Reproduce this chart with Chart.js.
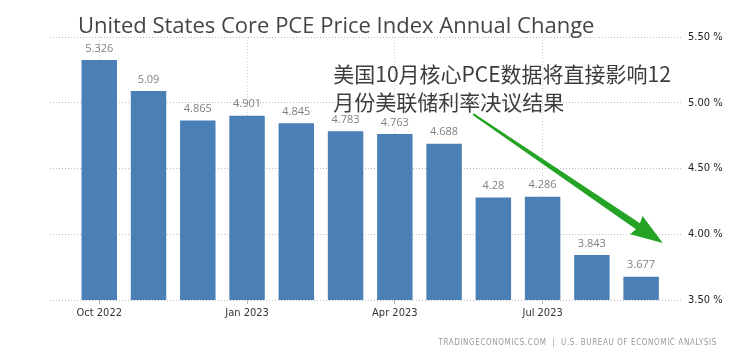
<!DOCTYPE html>
<html>
<head>
<meta charset="utf-8">
<script src="https://cdn.jsdelivr.net/npm/chart.js@4.4.0/dist/chart.umd.min.js"></script>
<style>
  html, body { margin: 0; padding: 0; background: #fff; }
  canvas { display: block; }
</style>
</head>
<body>
<canvas id="pce" width="756" height="358"></canvas>
<script>
"use strict";

// months shown on the chart, Oct 2022 .. Sep 2023
const months = ['Oct 2022', 'Nov 2022', 'Dec 2022', 'Jan 2023', 'Feb 2023', 'Mar 2023',
                'Apr 2023', 'May 2023', 'Jun 2023', 'Jul 2023', 'Aug 2023', 'Sep 2023'];
const coreChange = [5.326, 5.09, 4.865, 4.901, 4.845, 4.783, 4.763, 4.688, 4.28, 4.286, 3.843, 3.677];
const tickMonths = ['Oct 2022', 'Jan 2023', 'Apr 2023', 'Jul 2023'];
const yTicks = [3.5, 4.0, 4.5, 5.0, 5.5];

const titleText = 'United States Core PCE Price Index Annual Change';
const sourceText = 'TRADINGECONOMICS.COM  |  U.S. BUREAU OF ECONOMIC ANALYSIS';
const noteLines = ['美国10月核心PCE数据将直接影响12', '月份美联储利率决议结果'];

const narrow = "'DejaVu Sans Condensed', 'DejaVu Sans', sans-serif";

// annotation text + arrow, placed in data units (x = month index, y = %)
const noteAt = {x: 4.75, y: 5.22};
const arrowFrom = {x: 7.59, y: 4.914};
const arrowTo = {x: 11.44, y: 3.933};

const drawArrow = (ctx, x1, y1, x2, y2) => {
  const L = Math.hypot(x2 - x1, y2 - y1);
  const hl = 30, hw = 11;
  ctx.save();
  ctx.translate(x1, y1);
  ctx.rotate(Math.atan2(y2 - y1, x2 - x1));
  ctx.beginPath();
  ctx.moveTo(0, -1);
  ctx.lineTo(L - hl, -3.6);
  ctx.lineTo(L - hl - 2, -hw);
  ctx.lineTo(L, 0);
  ctx.lineTo(L - hl - 2, hw);
  ctx.lineTo(L - hl, 3.6);
  ctx.lineTo(0, 1);
  ctx.closePath();
  ctx.fillStyle = '#24a324';
  ctx.fill();
  ctx.restore();
};

const decor = {
  id: 'decor',
  afterDatasetsDraw(chart) {
    const ctx = chart.ctx;
    const meta = chart.getDatasetMeta(0);
    ctx.save();
    ctx.font = "11px 'Open Sans', sans-serif";
    ctx.fillStyle = '#808080';
    ctx.textAlign = 'center';
    ctx.textBaseline = 'bottom';
    meta.data.forEach((bar, i) => {
      ctx.fillText(String(coreChange[i]), bar.x, bar.y - 6);
    });
    ctx.restore();
  },
  afterDraw(chart) {
    const ctx = chart.ctx;
    const xs = chart.scales.x, ys = chart.scales.y;
    ctx.save();
    // title
    ctx.font = "22px 'Open Sans', sans-serif";
    ctx.fillStyle = '#444';
    ctx.textAlign = 'left';
    ctx.textBaseline = 'alphabetic';
    ctx.fillText(titleText, 78, 33);
    // source line
    ctx.font = "8px " + narrow;
    ctx.fillStyle = '#999';
    ctx.textAlign = 'right';
    ctx.textBaseline = 'middle';
    ctx.letterSpacing = '0.6px';
    ctx.fillText(sourceText, 717, 343);
    ctx.letterSpacing = '0px';
    // chinese note
    ctx.font = "21px 'Noto Sans CJK SC', sans-serif";
    ctx.fillStyle = '#3c3c3c';
    ctx.textAlign = 'left';
    const nx = xs.getPixelForValue(noteAt.x);
    const ny = ys.getPixelForValue(noteAt.y);
    noteLines.forEach((line, i) => ctx.fillText(line, nx, ny + i * 28));
    ctx.restore();
    drawArrow(ctx,
      xs.getPixelForValue(arrowFrom.x), ys.getPixelForValue(arrowFrom.y),
      xs.getPixelForValue(arrowTo.x), ys.getPixelForValue(arrowTo.y));
  }
};

new Chart(document.getElementById('pce'), {
  type: 'bar',
  data: {
    datasets: [{
      data: coreChange.map((v, i) => ({x: i, y: v})),
      backgroundColor: '#4a80b6',
      barPercentage: 0.72,
      categoryPercentage: 1
    }]
  },
  options: {
    responsive: false,
    animation: false,
    devicePixelRatio: 1,
    layout: {padding: {left: 50, top: 37, right: 0, bottom: 0}},
    plugins: {legend: {display: false}, tooltip: {enabled: false}, title: {display: false}},
    scales: {
      x: {
        type: 'linear',
        offset: false,
        min: -1,
        max: 11.85,
        afterBuildTicks: (s) => { s.ticks = tickMonths.map((m) => ({value: months.indexOf(m)})); },
        afterFit: (s) => { s.height = 58; },
        ticks: {
          callback: (v) => months[v],
          font: {family: narrow, size: 11},
          color: '#333',
          padding: 3,
          maxRotation: 0,
          autoSkip: false
        },
        grid: {color: '#cfcfcf', tickLength: 4, tickColor: '#bbb', tickBorderDash: [], offset: false},
        border: {display: false, dash: [1, 2]}
      },
      y: {
        position: 'right',
        min: 3.5,
        max: 5.5,
        afterBuildTicks: (s) => { s.ticks = yTicks.map((v) => ({value: v})); },
        afterFit: (s) => { s.width = 73; },
        ticks: {
          callback: (v) => v.toFixed(2) + ' %',
          font: {family: narrow, size: 11},
          color: '#222',
          padding: 5
        },
        grid: {color: '#bdbdbd', drawTicks: false},
        border: {display: false, dash: [1, 2]}
      }
    }
  },
  plugins: [decor]
});
</script>
</body>
</html>
